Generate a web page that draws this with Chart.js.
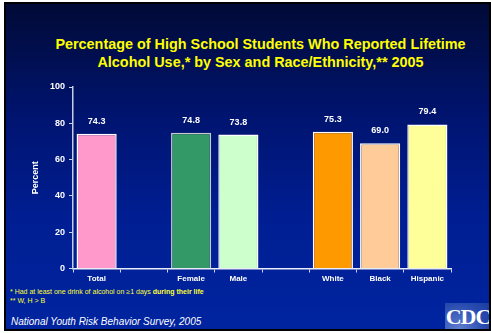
<!DOCTYPE html>
<html>
<head>
<meta charset="utf-8">
<script src="https://cdn.jsdelivr.net/npm/chart.js@4"></script>
<style>
  html, body { margin: 0; padding: 0; background: #fff; }
  #frame { position: absolute; left: 4px; top: 2px; width: 487px; height: 329px; background: #000; }
  #slide {
    position: absolute; left: 6px; top: 4px; width: 483px; height: 325px; overflow: hidden;
    background: linear-gradient(to bottom, #010a36 0%, #001470 35%, #001e92 65%, #0024a0 100%);
    font-family: "Liberation Sans", Arial, sans-serif;
  }
  #title {
    position: absolute; left: 0; top: 31px; width: 509px; text-align: center;
    color: #ffff00; font-weight: bold; font-size: 14.4px; line-height: 18px;
  }
  .note { position: absolute; left: 4px; color: #ffff33; font-size: 7px; }
  #source { position: absolute; left: 5px; top: 312px; color: #fff; font-style: italic; font-size: 10px; }
  #logo {
    position: absolute; left: 439px; top: 299px; width: 46px; height: 26px;
    background: radial-gradient(circle at 30% 100%, #5f7fd0 0%, #2a4cb0 60%, #183aa0 100%);
    color: #fff; font-family: "Liberation Serif", serif; font-weight: bold; font-size: 22px;
    line-height: 27px; text-align: center; letter-spacing: -1px;
  }
  canvas { position: absolute; left: 0; top: 0; }
</style>
</head>
<body>
<div id="frame"></div>
<div id="slide">
  <div id="title">Percentage of High School Students Who Reported Lifetime<br>Alcohol Use,* by Sex and Race/Ethnicity,** 2005</div>
  <div class="note" style="top:284px">* Had at least one drink of alcohol on &ge;1 days <b>during their life</b></div>
  <div class="note" style="top:293px">** W, H &gt; B</div>
  <div id="source">National Youth Risk Behavior Survey, 2005</div>
  <div id="logo">CDC</div>
</div>
<canvas id="chart" width="491" height="333"></canvas>
<script>
const categories = ['Total', '', 'Female', 'Male', '', 'White', 'Black', 'Hispanic'];
const percentValues = [74.3, null, 74.8, 73.8, null, 75.3, 69.0, 79.4];
const valueLabels = ['74.3', '', '74.8', '73.8', '', '75.3', '69.0', '79.4'];
const yTicks = [0, 20, 40, 60, 80, 100];

const barColors = ['#ff99cc', null, '#339966', '#ccffcc', null, '#ff9900', '#ffcc99', '#ffff99'];
const barBorders = ['#ffffff', null, '#c8c8c8', '#ffffff', null, '#ffffff', '#ffffff', '#ffffff'];

const valueLabelPlugin = {
    id: 'valueLabels',
    afterDatasetsDraw(chart) {
        const ctx = chart.ctx;
        const meta = chart.getDatasetMeta(0);
        ctx.save();
        ctx.fillStyle = '#ffffff';
        ctx.font = 'bold 9px "Liberation Sans", Arial, sans-serif';
        ctx.textAlign = 'center';
        ctx.textBaseline = 'bottom';
        meta.data.forEach((bar, i) => {
            if (percentValues[i] == null) return;
            ctx.fillText(valueLabels[i], bar.x, bar.y - 8);
        });
        ctx.restore();
    }
};

const ctx = document.getElementById('chart').getContext('2d');
new Chart(ctx, {
    type: 'bar',
    data: {
        labels: categories,
        datasets: [{
            data: percentValues,
            backgroundColor: barColors,
            borderColor: barBorders,
            borderWidth: 1.5,
            borderSkipped: 'bottom',
            barPercentage: 0.85,
            categoryPercentage: 1.0
        }]
    },
    options: {
        responsive: false,
        animation: false,
        layout: { padding: { left: 0, top: 87, right: 40, bottom: 44.5 } },
        plugins: { legend: { display: false }, tooltip: { enabled: false } },
        scales: {
            x: {
                afterFit: (s) => { s.height = 20; },
                grid: { offset: true, drawOnChartArea: false, drawTicks: true, tickLength: 4, color: '#d0d4e8', lineWidth: 1 },
                border: { color: '#e8ecf8', width: 1.5 },
                ticks: {
                    color: '#ffffff', padding: 1,
                    font: { family: '"Liberation Sans", Arial, sans-serif', size: 8, weight: 'bold' },
                    maxRotation: 0, autoSkip: false
                }
            },
            y: {
                min: 0, max: 100,
                afterFit: (s) => { s.width = 73; },
                afterBuildTicks: (s) => { s.ticks = yTicks.map(v => ({ value: v })); },
                grid: { drawOnChartArea: false, drawTicks: true, tickLength: 4, color: '#d0d4e8', lineWidth: 1 },
                border: { color: '#c8cce0', width: 1.5 },
                ticks: {
                    color: '#ffffff', padding: 4,
                    font: { family: '"Liberation Sans", Arial, sans-serif', size: 9, weight: 'bold' }
                },
                title: {
                    display: true, text: 'Percent', color: '#ffffff', padding: { top: 30, bottom: 0 },
                    font: { family: '"Liberation Sans", Arial, sans-serif', size: 9, weight: 'bold' }
                }
            }
        }
    },
    plugins: [valueLabelPlugin]
});
</script>
</body>
</html>
